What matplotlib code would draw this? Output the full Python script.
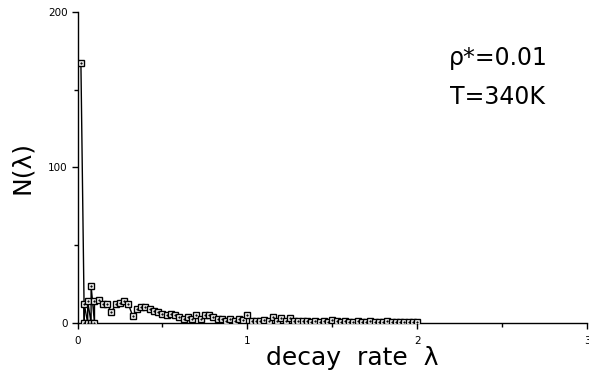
import matplotlib
matplotlib.use("Agg")
import matplotlib.pyplot as plt
import numpy as np

# spike region at small lambda: alternating zero / nonzero samples
lam_head = [0.02, 0.04, 0.04, 0.06, 0.06, 0.08, 0.08, 0.10, 0.10]
n_head = [167, 0, 12, 0, 14, 0, 24, 0, 14]

# tail, sampled every 0.025 from 0.125 to 2.0
lam_tail = np.round(np.arange(0.125, 2.0001, 0.025), 3)
n_tail = [15, 12, 12, 7, 12, 13, 14, 12, 4.5, 9,
          10, 10, 9, 8, 7, 6, 5, 6, 5, 4,
          2.5, 4, 2.5, 5, 2.5, 5, 5, 4, 2.5, 2.5,
          1.5, 2.5, 1.5, 2.5, 2, 5, 1, 1, 1, 2,
          1, 4, 1.5, 3, 1, 3, 1, 1.5, 1, 1,
          0.5, 1, 0.5, 1, 0.5, 2, 1, 0.5, 1, 0.5,
          0.5, 1, 0.5, 0.5, 1, 0.5, 0.5, 0.5, 1, 0.5,
          0.5, 0.5, 0.5, 0.5, 0.5, 0.5]

lam = np.concatenate([lam_head, lam_tail])
n = np.concatenate([n_head, n_tail])

fig = plt.figure(figsize=(5.89, 3.73), dpi=100)
ax = fig.add_axes([0.1316, 0.134, 0.865, 0.834])

ax.plot(lam, n, color="black", lw=1.0, marker="s", ms=4.8,
        mfc="white", mec="black", mew=1.0, zorder=3)
ax.plot(lam, n, ls="none", marker=".", ms=1.3, color="black", zorder=4)

ax.set_xlim(0, 3)
ax.set_ylim(0, 200)
ax.set_xticks([0, 1, 2, 3])
ax.set_xticks([0.5, 1.5, 2.5], minor=True)
ax.set_yticks([0, 100, 200])
ax.set_yticks([50, 150], minor=True)
ax.tick_params(which="major", direction="out", length=4, width=1,
               labelsize=7.5, pad=5)
ax.tick_params(which="minor", direction="out", length=3, width=1)
ax.tick_params(axis="y", pad=3)
for s in ["top", "right"]:
    ax.spines[s].set_visible(False)
for s in ["left", "bottom"]:
    ax.spines[s].set_linewidth(1.0)

ax.set_xlabel("decay  rate  λ", fontsize=18)
ax.xaxis.set_label_coords(0.54, -0.075)
ax.set_ylabel("N(λ)", fontsize=18, labelpad=10)

ax.text(0.825, 0.852, "ρ*=0.01", transform=ax.transAxes, fontsize=17,
        ha="center", va="center")
ax.text(0.825, 0.727, "T=340K", transform=ax.transAxes, fontsize=17,
        ha="center", va="center")

fig.savefig("out.png", dpi=100)
